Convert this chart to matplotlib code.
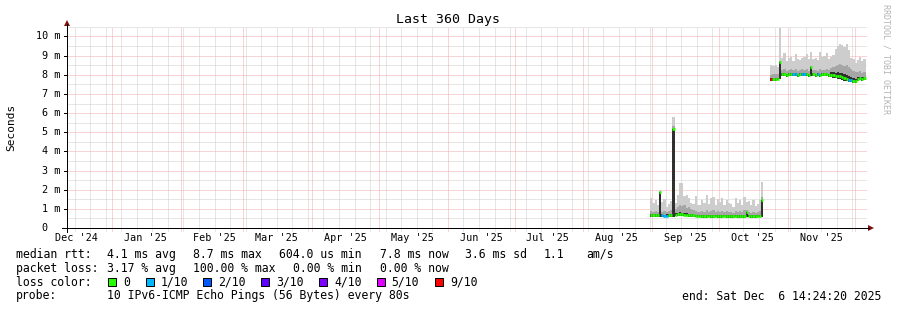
import matplotlib
matplotlib.use('Agg')
import matplotlib.pyplot as plt
import matplotlib.dates as mdates
from matplotlib.lines import Line2D
from matplotlib.patches import Rectangle, Polygon
from matplotlib.transforms import blended_transform_factory
from datetime import datetime, timedelta

plt.rcParams['font.family'] = ['DejaVu Sans Mono']

W, H = 897, 310
t_start = datetime(2024, 12, 11, 14, 24, 20)
t_end = datetime(2025, 12, 6, 14, 24, 20)

# --- data, one value per day (ms) ---
seg1_start = datetime(2025, 8, 31)
med1 = [0.66, 0.66, 0.68, 0.68, 1.88, 0.66, 0.64, 0.64, 0.66, 0.68,
        5.15, 0.70, 0.72, 0.72, 0.72, 0.70, 0.70, 0.68, 0.66, 0.66,
        0.64, 0.63, 0.63, 0.62, 0.62, 0.62, 0.63, 0.62, 0.62, 0.63,
        0.62, 0.62, 0.62, 0.63, 0.62, 0.62, 0.62, 0.62, 0.63, 0.62,
        0.62, 0.62, 0.62, 0.85, 0.63, 0.62, 0.62, 0.62, 0.63, 0.64,
        1.45]
lo1 = [0.58, 0.58, 0.60, 0.60, 0.60, 0.57, 0.56, 0.56, 0.58, 0.60,
       0.60, 0.62, 0.63, 0.63, 0.62, 0.61, 0.61, 0.60, 0.58, 0.58,
       0.56, 0.55, 0.55, 0.54, 0.54, 0.54, 0.55, 0.54, 0.54, 0.55,
       0.54, 0.54, 0.54, 0.55, 0.54, 0.54, 0.54, 0.54, 0.55, 0.54,
       0.54, 0.54, 0.54, 0.56, 0.55, 0.54, 0.54, 0.54, 0.55, 0.56,
       0.58]
dk1 = [0.72, 0.73, 0.75, 0.74, 1.88, 0.72, 0.70, 0.71, 0.73, 0.75,
       5.15, 0.78, 0.80, 0.82, 0.80, 0.78, 0.77, 0.75, 0.72, 0.72,
       0.70, 0.69, 0.69, 0.68, 0.68, 0.69, 0.69, 0.68, 0.68, 0.69,
       0.68, 0.68, 0.68, 0.69, 0.68, 0.68, 0.68, 0.68, 0.69, 0.68,
       0.68, 0.68, 0.68, 0.85, 0.69, 0.68, 0.68, 0.68, 0.69, 0.70,
       1.45]
mid1 = [0.90, 0.85, 0.90, 0.85, 1.90, 0.85, 0.90, 0.85, 0.90, 0.95,
        5.30, 1.00, 1.10, 1.20, 1.15, 1.20, 1.05, 1.10, 1.00, 0.95,
        0.90, 0.85, 0.85, 0.90, 0.85, 0.95, 0.85, 0.90, 0.95, 0.85,
        0.90, 0.85, 0.90, 0.85, 0.90, 0.85, 0.85, 0.80, 0.90, 0.85,
        0.90, 0.85, 0.95, 0.95, 0.85, 0.80, 0.85, 0.80, 0.85, 0.90,
        1.60]
hi1 = [1.55, 1.30, 1.45, 1.20, 2.00, 1.35, 1.50, 1.10, 1.27, 1.40,
       5.80, 1.30, 1.72, 2.33, 2.35, 1.65, 1.72, 1.55, 1.30, 1.27,
       1.65, 1.20, 1.20, 1.45, 1.30, 1.72, 1.25, 1.55, 1.60, 1.20,
       1.50, 1.35, 1.55, 1.20, 1.45, 1.30, 1.25, 1.10, 1.55, 1.30,
       1.45, 1.20, 1.60, 1.35, 1.40, 1.20, 1.45, 1.15, 1.27, 1.45,
       2.40]
loss1 = [0, 0, 0, 0, 0, 1, 1, 1, 0, 0,
         0, 0, 0, 0, 0, 0, 0, 0, 0, 0,
         0, 0, 0, 0, 0, 0, 0, 0, 0, 0,
         0, 0, 0, 0, 0, 0, 0, 0, 0, 0,
         0, 0, 0, 0, 0, 0, 0, 0, 0, 0,
         0]

seg2_start = datetime(2025, 10, 24)
med2 = [7.76, 7.76, 7.76, 7.78, 8.66, 8.02, 8.02, 8.00, 8.02, 8.03,
        8.03, 8.02, 8.00, 8.02, 8.03, 8.02, 8.02, 8.00, 8.40, 8.02,
        8.00, 8.02, 8.00, 8.02, 8.03, 8.02, 8.00, 8.00, 7.98, 7.95,
        7.95, 7.93, 7.90, 7.85, 7.80, 7.75, 7.72, 7.68, 7.66, 7.80,
        7.82, 7.80, 7.82]
lo2 = [7.70, 7.70, 7.70, 7.72, 7.78, 7.92, 7.92, 7.90, 7.92, 7.93,
       7.93, 7.92, 7.90, 7.92, 7.93, 7.92, 7.92, 7.90, 7.92, 7.92,
       7.90, 7.92, 7.90, 7.92, 7.93, 7.92, 7.90, 7.88, 7.85, 7.82,
       7.80, 7.78, 7.75, 7.70, 7.66, 7.62, 7.60, 7.58, 7.58, 7.70,
       7.72, 7.70, 7.72]
dk2 = [7.82, 7.82, 7.82, 7.84, 8.66, 8.08, 8.08, 8.06, 8.08, 8.09,
       8.09, 8.08, 8.06, 8.08, 8.09, 8.08, 8.08, 8.06, 8.40, 8.08,
       8.06, 8.08, 8.06, 8.08, 8.09, 8.08, 8.06, 8.12, 8.12, 8.10,
       8.12, 8.10, 8.08, 8.02, 7.98, 7.92, 7.88, 7.84, 7.80, 7.88,
       7.90, 7.88, 7.90]
mid2 = [8.00, 8.05, 8.05, 8.05, 8.70, 8.25, 8.30, 8.20, 8.25, 8.30,
        8.25, 8.30, 8.20, 8.25, 8.30, 8.25, 8.30, 8.20, 8.45, 8.25,
        8.25, 8.20, 8.30, 8.25, 8.25, 8.30, 8.25, 8.35, 8.40, 8.45,
        8.50, 8.55, 8.50, 8.45, 8.50, 8.40, 8.30, 8.20, 8.15, 8.15,
        8.20, 8.10, 8.15]
hi2 = [8.50, 8.45, 8.50, 8.40, 10.43, 8.90, 9.12, 8.70, 8.86, 8.95,
       8.70, 9.10, 8.80, 8.75, 8.90, 8.95, 9.10, 8.80, 9.20, 8.85,
       8.90, 8.79, 9.20, 8.95, 9.00, 9.12, 8.85, 8.95, 9.05, 9.36,
       9.50, 9.62, 9.53, 9.45, 9.60, 9.27, 8.90, 8.85, 8.62, 8.79,
       8.95, 8.70, 8.80]
loss2 = [9, 0, 0, 0, 0, 0, 0, 0, 0, 0,
         1, 1, 0, 0, 1, 1, 0, 0, 0, 0,
         0, 1, 0, 0, 0, 0, 0, 0, 0, 0,
         0, 0, 0, 0, 0, 1, 1, 0, 0, 0,
         0, 0, 0]

loss_colors = {0: '#26ff00', 1: '#00b8ff', 2: '#0059ff', 3: '#5e00ff',
               4: '#7e00ff', 5: '#dd00ff', 9: '#ff0000'}
legend_loss = ['0', '1/10', '2/10', '3/10', '4/10', '5/10', '9/10']
legend_keys = [0, 1, 2, 3, 4, 5, 9]

month_labels = ["Dec '24", "Jan '25", "Feb '25", "Mar '25", "Apr '25", "May '25",
                "Jun '25", "Jul '25", "Aug '25", "Sep '25", "Oct '25", "Nov '25"]
label_days = [datetime(2024, 12, 16)] + [datetime(2025, m, 16) for m in range(1, 12)]
month_starts = [datetime(2025, m, 1) for m in range(1, 13)]

rows = [
    [(16, 'median rtt:'), (107, '4.1 ms avg'), (193, '8.7 ms max'), (279, '604.0 us min'),
     (380, '7.8 ms now'), (465, '3.6 ms sd'), (544, '1.1'), (586, 'am/s')],
    [(16, 'packet loss:'), (107, '3.17 % avg'), (193, '100.00 % max'),
     (293, '0.00 % min'), (380, '0.00 % now')],
]


def fx(x):
    return x / W


def fy(y):
    return 1 - y / H


fig = plt.figure(figsize=(W / 100, H / 100), dpi=100)
fig.patch.set_facecolor('white')
ax = fig.add_axes([fx(67), fy(228), 800 / W, 201.1 / H])
ax.set_xlim(mdates.date2num(t_start), mdates.date2num(t_end))
ax.set_ylim(0, 10.5)
for s in ax.spines.values():
    s.set_visible(False)
ax.set_xticks([])
ax.set_yticks([])

dot = (0, (1, 1))
grid_red = '#f3aaaa'
grid_gray = '#cfcfcf'
trans_xa = blended_transform_factory(ax.transData, ax.transAxes)
trans_ay = blended_transform_factory(ax.transAxes, ax.transData)

# grid, 1px dotted
for i in range(21):
    y = 0.5 + 0.5 * i
    if abs(y - round(y)) < 1e-6:
        ax.plot([-2 / 800, 1], [y, y], transform=trans_ay, color=grid_red, lw=0.72,
                ls=dot, clip_on=False, zorder=1, snap=True)
        ax.plot([-3 / 800, 0], [y, y], transform=trans_ay, color='black', lw=0.72,
                clip_on=False, zorder=1, snap=True)
    else:
        ax.plot([0, 1], [y, y], transform=trans_ay, color=grid_gray, lw=0.72,
                ls=dot, clip_on=False, zorder=1, snap=True)

d = datetime(2024, 12, 15)
while d < t_end:
    if d.day != 1:
        ax.plot([mdates.date2num(d)] * 2, [-3 / 201, 1], transform=trans_xa,
                color=grid_gray, lw=0.72, ls=dot, clip_on=False, zorder=1, snap=True)
    d += timedelta(days=7)
for m in month_starts:
    ax.plot([mdates.date2num(m)] * 2, [-3 / 201, 1], transform=trans_xa,
            color=grid_red, lw=0.72, ls=dot, clip_on=False, zorder=1, snap=True)


def draw_segment(start, lo, dk, mid, hi, med, loss):
    x0 = mdates.date2num(start)
    xs = [x0 + i for i in range(len(med))]
    ax.bar(xs, [h - l for h, l in zip(hi, lo)], bottom=lo, width=1, align='edge',
           color='#cdcdcd', linewidth=0, zorder=2)
    ax.bar(xs, [h - l for h, l in zip(mid, lo)], bottom=lo, width=1, align='edge',
           color='#a6a6a6', linewidth=0, zorder=3)
    ax.bar(xs, [h - l for h, l in zip(dk, lo)], bottom=lo, width=1, align='edge',
           color='#303030', linewidth=0, zorder=4)
    ax.hlines(med, xs, [x + 1 for x in xs], colors=[loss_colors[v] for v in loss],
              lw=2.0, zorder=5)


draw_segment(seg1_start, lo1, dk1, mid1, hi1, med1, loss1)
draw_segment(seg2_start, lo2, dk2, mid2, hi2, med2, loss2)

# axis lines with arrows
fig.add_artist(Line2D([fx(62), fx(869)], [fy(228), fy(228)], color='black', lw=0.72))
fig.add_artist(Line2D([fx(67), fx(67)], [fy(232), fy(24)], color='black', lw=0.72))
fig.add_artist(Polygon([[fx(868), fy(225)], [fx(868), fy(231)], [fx(874), fy(228)]],
                       closed=True, color='#7f1010', lw=0))
fig.add_artist(Polygon([[fx(64), fy(26)], [fx(70), fy(26)], [fx(67), fy(20)]],
                       closed=True, color='#7f1010', lw=0))

# tick labels
for day, lab in zip(label_days, month_labels):
    ax.text(mdates.date2num(day), -9.7 / 201.1, lab, transform=trans_xa,
            ha='center', va='center', fontsize=7.3)
for v in range(1, 11):
    ax.text(-7 / 800, v, '%d m' % v, transform=trans_ay, ha='right', va='center',
            fontsize=7.3)
ax.text(-19 / 800, 0, '0', transform=trans_ay, ha='right', va='center', fontsize=7.3)

fig.text(fx(448), fy(19), 'Last 360 Days', ha='center', va='center', fontsize=9.5)
fig.text(fx(11), fy(127), 'Seconds', rotation=90, ha='center', va='center', fontsize=8)
fig.text(fx(886), fy(59), 'RRDTOOL / TOBI OETIKER', rotation=270, ha='center',
         va='center', fontsize=6, color='#b4b4b4')

# legend
for row_y, items in zip([254.3, 268.3], rows):
    for x, s in items:
        fig.text(fx(x), fy(row_y), s, ha='left', va='center', fontsize=8.3)

fig.text(fx(16), fy(282.3), 'loss color:', ha='left', va='center', fontsize=8.3)
box_x = [108.3, 145.7, 203, 261, 319, 376.7, 435]
for bx, key, lab in zip(box_x, legend_keys, legend_loss):
    fig.add_artist(Rectangle((fx(bx), fy(286.3)), 8 / W, 8 / H, transform=fig.transFigure,
                             facecolor=loss_colors[key], edgecolor='black', lw=0.72))
    fig.text(fx(bx + 15), fy(282.3), lab, ha='left', va='center', fontsize=8.3)

fig.text(fx(16), fy(296), 'probe:', ha='left', va='center', fontsize=8.3)
fig.text(fx(107), fy(296), '10 IPv6-ICMP Echo Pings (56 Bytes) every 80s', ha='left',
         va='center', fontsize=8.3)
fig.text(fx(881), fy(296), 'end: Sat Dec  6 14:24:20 2025', ha='right', va='center',
         fontsize=8.3)

fig.savefig('out.png', dpi=100, facecolor='white')
